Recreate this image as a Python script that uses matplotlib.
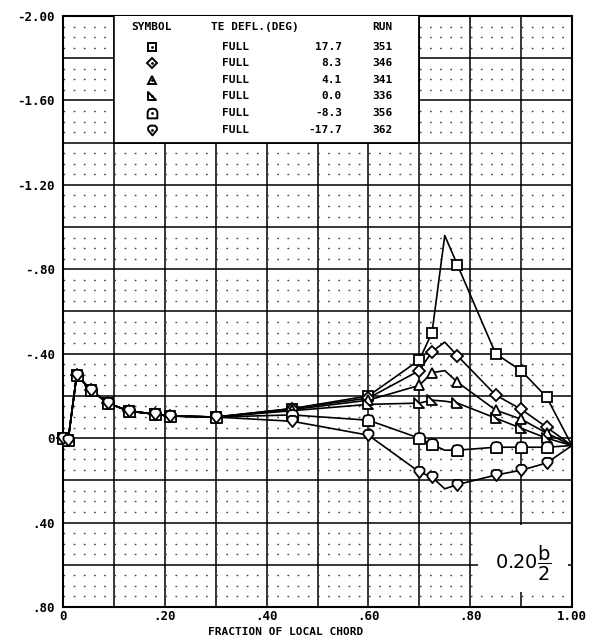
import matplotlib.pyplot as plt
import numpy as np
from matplotlib.patches import Rectangle
from matplotlib.path import Path
from matplotlib.ticker import MultipleLocator, FuncFormatter

# chord stations (fraction of local chord)
x_c = [0.0, 0.01, 0.027, 0.055, 0.088, 0.13, 0.18, 0.21, 0.30, 0.45,
       0.60, 0.70, 0.725, 0.75, 0.775, 0.85, 0.90, 0.95, 1.0]

# pressure coefficient per run
cp_351 = [0.0, 0.01, -0.30, -0.227, -0.166, -0.128, -0.114, -0.105, -0.10, -0.14,
          -0.20, -0.37, -0.50, -0.96, -0.82, -0.40, -0.32, -0.195, 0.035]
cp_346 = [0.0, 0.01, -0.30, -0.227, -0.166, -0.128, -0.114, -0.105, -0.10, -0.14,
          -0.19, -0.32, -0.41, -0.455, -0.39, -0.204, -0.137, -0.052, 0.035]
cp_341 = [0.0, 0.01, -0.30, -0.227, -0.166, -0.128, -0.114, -0.105, -0.10, -0.135,
          -0.18, -0.25, -0.31, -0.32, -0.265, -0.133, -0.09, -0.024, 0.035]
cp_336 = [0.0, 0.01, -0.30, -0.227, -0.166, -0.128, -0.114, -0.105, -0.10, -0.13,
          -0.16, -0.166, -0.18, -0.175, -0.166, -0.095, -0.047, 0.0, 0.035]
cp_356 = [0.0, 0.01, -0.30, -0.227, -0.166, -0.128, -0.114, -0.105, -0.10, -0.11,
          -0.085, 0.0, 0.03, 0.057, 0.057, 0.043, 0.043, 0.043, 0.035]
cp_362 = [0.0, 0.01, -0.30, -0.227, -0.166, -0.128, -0.114, -0.105, -0.10, -0.08,
          -0.014, 0.16, 0.185, 0.24, 0.22, 0.175, 0.152, 0.118, 0.035]

runs = ['351', '346', '341', '336', '356', '362']
te_defl = ['17.7', '8.3', '4.1', '0.0', '-8.3', '-17.7']
te_type = ['FULL', 'FULL', 'FULL', 'FULL', 'FULL', 'FULL']
all_cp = [cp_351, cp_346, cp_341, cp_336, cp_356, cp_362]

# no symbols at 0.75 and at the trailing edge
marked = [i for i in range(len(x_c)) if i not in (13, 18)]

def closed(v):
    v = v + [v[0]]
    return Path(v, closed=True)

m_rtri = closed([(-1, 1), (-1, -1), (1, -1)])
m_flat = closed([(-1, -1), (1, -1), (1, 0.3), (0.7, 0.85), (0, 1), (-0.7, 0.85), (-1, 0.3)])
m_drop = closed([(0, -1), (0.9, 0.1), (0.9, 0.6), (0.5, 1), (-0.5, 1), (-0.9, 0.6), (-0.9, 0.1)])
markers = ['s', 'D', '^', m_rtri, m_flat, m_drop]
msizes = [7, 6, 7, 7, 8, 8]

mono = 'DejaVu Sans Mono'

fig = plt.figure(figsize=(5.93, 6.38), dpi=100)
ax = fig.add_axes([63/593, 1-607/638, 509/593, 591/638])
ax.set_xlim(0, 1.0)
ax.set_ylim(0.8, -2.0)

# chart paper grid
for gx in np.arange(0.1, 1.0, 0.1):
    ax.axvline(gx, color='k', lw=1.1, zorder=1)
for gy in np.arange(-1.8, 0.8, 0.2):
    ax.axhline(gy, color='k', lw=1.1, zorder=1)
for gy in np.arange(-1.95, 0.8, 0.05):
    if abs(gy/0.2 - round(gy/0.2)) > 0.01:
        ax.axhline(gy, color='0.25', lw=1.0, ls=(0, (1.2, 6.13)), zorder=1)

ax.xaxis.set_major_locator(MultipleLocator(0.2))
ax.yaxis.set_major_locator(MultipleLocator(0.4))

def fmt(v, pos):
    if abs(v) < 1e-9:
        return '0'
    return f'{v:.2f}'.replace('0.', '.') if abs(v) < 1 else f'{v:.2f}'

ax.xaxis.set_major_formatter(FuncFormatter(fmt))
ax.yaxis.set_major_formatter(FuncFormatter(fmt))
ax.tick_params(axis='y', length=0, pad=6)
ax.tick_params(axis='x', length=0, pad=2)
for lab in ax.get_xticklabels() + ax.get_yticklabels():
    lab.set_fontfamily(mono)
    lab.set_fontweight('bold')
    lab.set_fontsize(9)
for s in ax.spines.values():
    s.set_linewidth(1.5)

for cp, mk, ms in zip(all_cp, markers, msizes):
    ax.plot(x_c, cp, color='k', lw=1.2, zorder=3)
    ax.plot(x_c, cp, ls='none', marker=mk, ms=ms, mfc='white', mec='k', mew=1.3,
            markevery=marked, zorder=4, clip_on=False)

# legend table
ax.add_patch(Rectangle((0.1, -2.0), 0.6, 0.6, facecolor='white', edgecolor='none', zorder=5))
ax.plot([0.1, 0.7, 0.7], [-1.4, -1.4, -2.0], color='k', lw=1.3, zorder=6)
ax.plot([0.1, 0.1], [-2.0, -1.4], color='k', lw=1.1, zorder=6)
tk = dict(family=mono, weight='bold', fontsize=8, va='center', zorder=7)
ax.text(0.135, -1.948, 'SYMBOL', ha='left', **tk)
ax.text(0.29, -1.948, 'TE DEFL.(DEG)', ha='left', **tk)
ax.text(0.607, -1.948, 'RUN', ha='left', **tk)
row_y = [-1.853, -1.775, -1.697, -1.619, -1.540, -1.462]
for ry, mk, ms, tt, td, rn in zip(row_y, markers, msizes, te_type, te_defl, runs):
    ax.plot([0.175], [ry], ls='none', marker=mk, ms=ms - 1, mfc='white', mec='k', mew=1.4, zorder=7)
    ax.plot([0.175], [ry], ls='none', marker='.', ms=2, color='k', zorder=8)
    ax.text(0.312, ry, tt, ha='left', **tk)
    ax.text(0.548, ry, td, ha='right', **tk)
    ax.text(0.607, ry, rn, ha='left', **tk)

# station label
ax.add_patch(Rectangle((0.815, 0.41), 0.177, 0.32, facecolor='white', edgecolor='none', zorder=5))
ax.text(0.905, 0.592, r'$\mathregular{0.20}\dfrac{\mathregular{b}}{\mathregular{2}}$',
        ha='center', va='center', fontsize=14, zorder=7)

fig.text(286/593, 1-632/638, 'FRACTION OF LOCAL CHORD', ha='center', va='center',
         family=mono, weight='bold', fontsize=8)

fig.savefig('out.png', dpi=100)
